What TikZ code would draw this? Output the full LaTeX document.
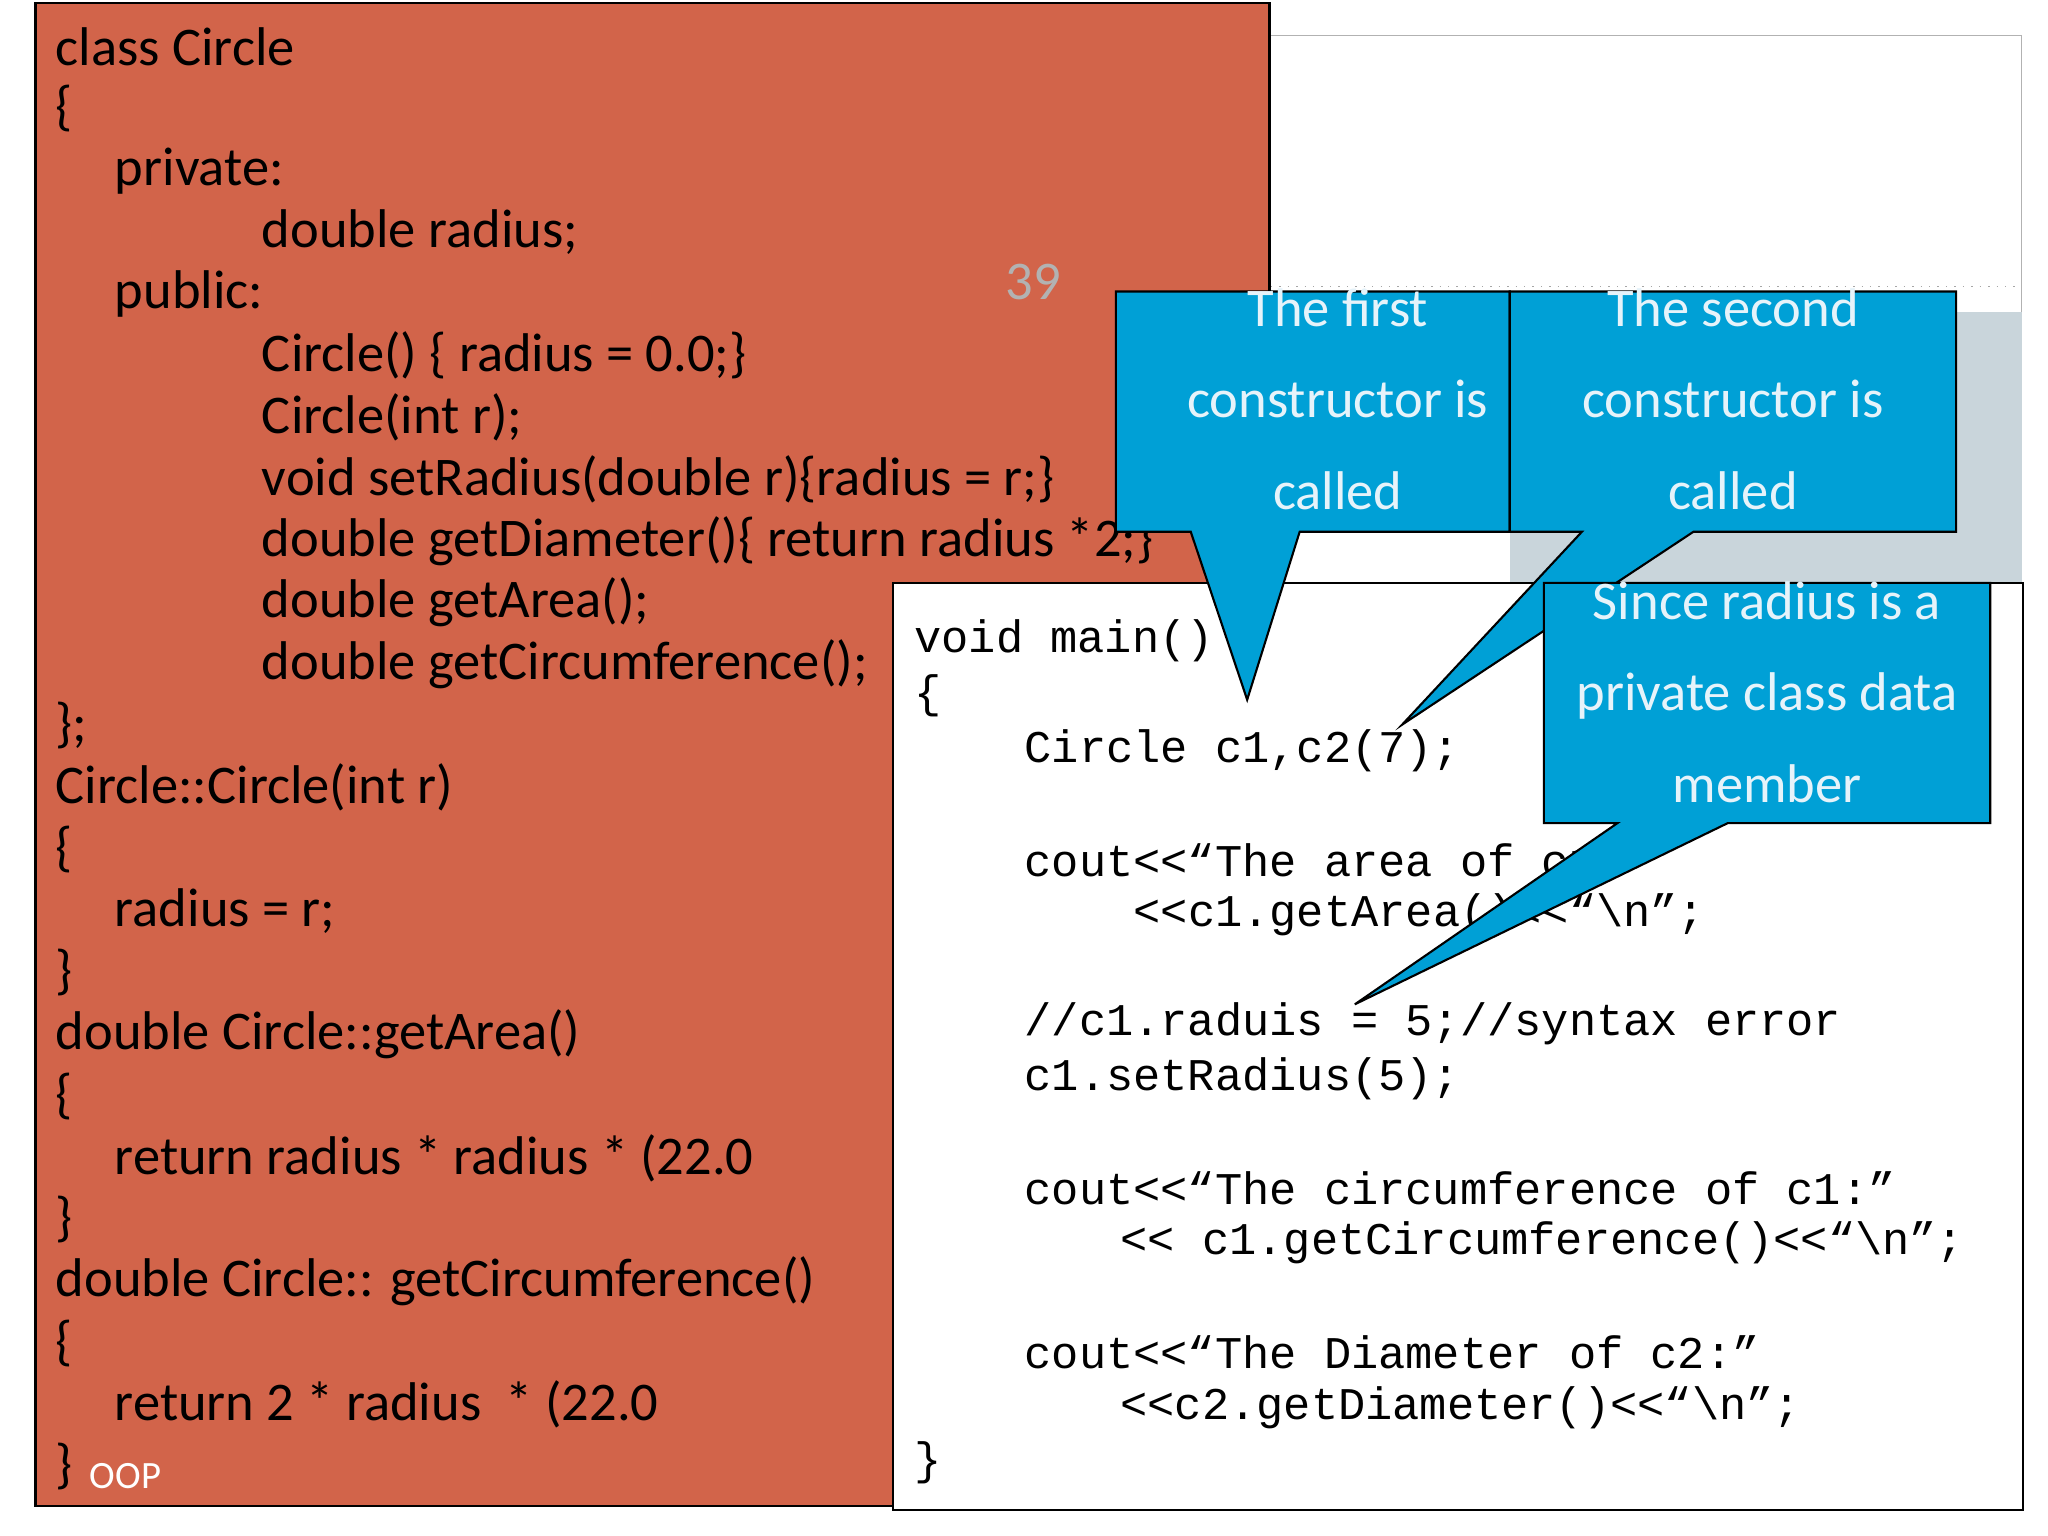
\documentclass[tikz,border=0pt]{standalone}
\usepackage{fontspec}
\setmainfont{Carlito}
\newfontfamily\codefont{Liberation Mono}
\usepackage{xcolor}
\usetikzlibrary{positioning,calc}
\definecolor{slideorange}{HTML}{D2644A}
\definecolor{calloutblue}{HTML}{00A0D6}
\definecolor{slidegrey}{HTML}{C9D5DB}
\definecolor{calltext}{HTML}{E6F3FA}
\tikzset{
  code/.style={anchor=west, inner sep=0pt, font=\fontsize{15.5}{18}\selectfont},
  mono/.style={anchor=west, inner sep=0pt, font=\codefont\fontsize{12.9}{15}\selectfont},
  callout/.style={fill=calloutblue, draw=black, line width=0.6pt},
  calltxt/.style={align=center, text=calltext, inner sep=0pt, font=\fontsize{15.5}{26}\selectfont}
}
\begin{document}
\begin{tikzpicture}[x=0.013128cm, y=-0.013128cm]
  \useasboundingbox (0,0) rectangle (1560,1170);

  % slide background
  \draw[gray!60, line width=0.4pt] (968,27) -- (1540,27) -- (1540,1150);
  \draw[gray!70, dotted] (968,218) -- (1540,218);
  \fill[slidegrey] (1150,238) rectangle (1540,444);

  % class code
  \fill[slideorange, draw=black, line width=0.6pt] (27,2) rectangle (967,1147);
  \node[text=gray!60, font=\fontsize{15.5}{18}\selectfont] (page) at (787,215) {39};
  \foreach \x/\i/\t in {
      42/0/class Circle, 42/1/\{, 87/2/private:, 199/3/double radius;,
      87/4/public:, 199/5/{Circle() \{ radius = 0.0;\}}, 199/6/Circle(int r);,
      199/7/{void setRadius(double r)\{radius = r;\}},
      199/8/{double getDiameter()\{ return radius *2;\}},
      199/9/double getArea();, 199/10/double getCircumference();,
      42/11/\};, 42/12/Circle::Circle(int r), 42/13/\{, 87/14/radius = r;,
      42/15/\}, 42/16/double Circle::getArea(), 42/17/\{,
      87/18/return radius * radius * (22.0/7);, 42/19/\},
      42/20/double Circle:: getCircumference(), 42/21/\{,
      87/22/return 2 * radius \ * (22.0/7);, 42/23/\}}
    \node[code] (l\i) at (\x,36+47*\i) {\t};
  \node[anchor=west, inner sep=0pt, text=white, font=\fontsize{11}{13}\selectfont] (oop) at (68,1124) {OOP};

  % main code
  \fill[white, draw=black, line width=0.6pt] (680,444) rectangle (1541,1150);
  \node[mono] (m1) at (696,488) {void main()};
  \node[mono] (m2) at (696,530) {\{};
  \node[mono] (m3) at (780,572) {Circle c1,c2(7);};
  \node[mono] (m4) at (780,655) {cout<<“The area of c1:”};
  \node[mono] (m5) at (863,697) {<<c1.getArea()<<“\textbackslash n”;};
  \node[mono] (m6) at (780,780) {//c1.raduis = 5;//syntax error};
  \node[mono] (m7) at (780,822) {c1.setRadius(5);};
  \node[mono] (m8) at (780,905) {cout<<“The circumference of c1:”};
  \node[mono] (m9) at (853,947) {<< c1.getCircumference()<<“\textbackslash n”;};
  \node[mono] (m10) at (780,1030) {cout<<“The Diameter of c2:”};
  \node[mono] (m11) at (853,1072) {<<c2.getDiameter()<<“\textbackslash n”;};
  \node[mono] (m12) at (696,1114) {\}};

  % callouts
  \draw[callout] (850,222) -- (1150,222) -- (1150,405) -- (990,405) -- (950,533)
    -- (907,405) -- (850,405) -- cycle;
  \node[calltxt] (first) at (1019,304) {The first\\constructor is\\called};
  \draw[callout] (1150,222) -- (1490,222) -- (1490,405) -- (1290,405) -- (1068,552)
    -- (1205,405) -- (1150,405) -- cycle;
  \node[calltxt] (second) at (1320,304) {The second\\constructor is\\called};
  \draw[callout] (1176,444) -- (1516,444) -- (1516,627) -- (1316,627) -- (1032,765)
    -- (1232,627) -- (1176,627) -- cycle;
  \node[calltxt] (since) at (1346,527) {Since radius is a\\private class data\\member};
\end{tikzpicture}
\end{document}
